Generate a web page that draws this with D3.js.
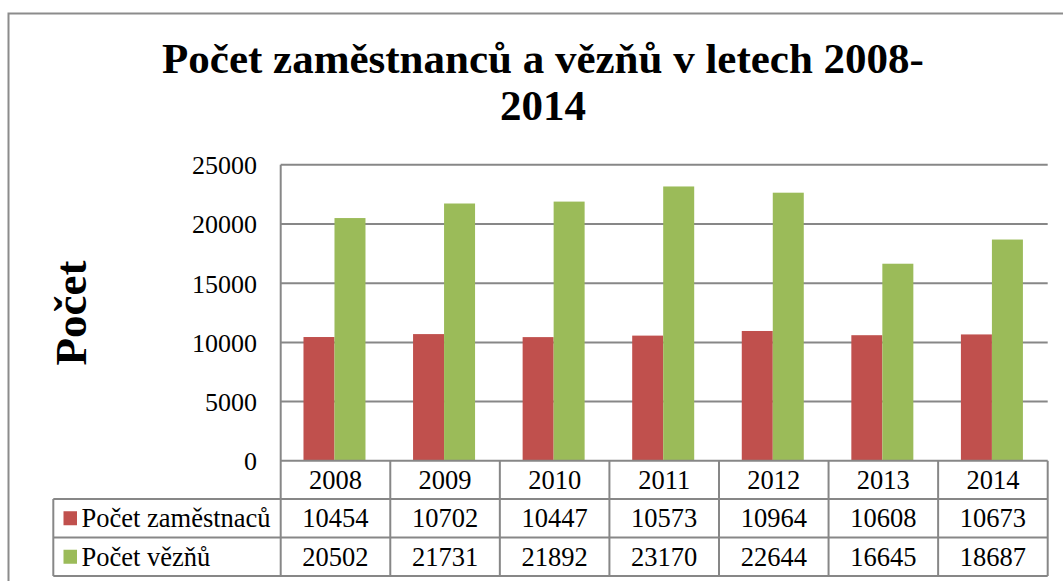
<!DOCTYPE html>
<html>
<head>
<meta charset="utf-8">
<script src="https://cdn.jsdelivr.net/npm/d3@7"></script>
<style>
  html, body { margin: 0; padding: 0; background: #fff; }
  svg { display: block; }
  text { font-family: "Liberation Serif", "Times New Roman", serif; fill: #000; }
</style>
</head>
<body>
<svg id="chart" width="1063" height="581"></svg>
<script>
const years = ["2008", "2009", "2010", "2011", "2012", "2013", "2014"];
const employees = [10454, 10702, 10447, 10573, 10964, 10608, 10673];
const prisoners = [20502, 21731, 21892, 23170, 22644, 16645, 18687];
const seriesNames = ["Počet zaměstnaců", "Počet vězňů"];
const seriesColors = ["#C0504D", "#9BBB59"];
const yTicks = [0, 5000, 10000, 15000, 20000, 25000];
const titleLines = ["Počet zaměstnanců a vězňů v letech 2008-", "2014"];
const yTitle = "Počet";

const series = [employees, prisoners];
const svg = d3.select("#chart");
const gridColor = "#878787";
const serif = '"Liberation Serif", "Times New Roman", serif';

// outer chart border (extends past the window on right / bottom)
svg.append("rect")
  .attr("x", 8.5).attr("y", 13.5).attr("width", 1200).attr("height", 800)
  .attr("fill", "none").attr("stroke", "#8c8c8c").attr("stroke-width", 2);

const plotLeft = 280.7, plotRight = 1047.7, plotTop = 164.8, plotBottom = 460.8;
const x = d3.scaleBand().domain(years).range([plotLeft, plotRight]).padding(0);
const y = d3.scaleLinear().domain([0, 25000]).range([plotBottom, plotTop]);
const groupW = 62;
const x1 = d3.scaleBand().domain(d3.range(series.length))
  .range([(x.bandwidth() - groupW) / 2 - 1, (x.bandwidth() + groupW) / 2 - 1]).padding(0);

// title
svg.append("g").selectAll("text").data(titleLines).join("text")
  .attr("x", 543).attr("y", (d, i) => 73 + i * 47)
  .attr("text-anchor", "middle")
  .style("font-family", serif)
  .style("font-size", "43px").style("font-weight", "bold")
  .text(d => d);

// y axis title
svg.append("text")
  .attr("transform", "translate(86,313) rotate(-90)")
  .attr("text-anchor", "middle")
  .style("font-family", serif)
  .style("font-size", "45px").style("font-weight", "bold")
  .text(yTitle);

// gridlines
svg.append("g").selectAll("line").data(yTicks.filter(t => t > 0)).join("line")
  .attr("x1", plotLeft).attr("x2", plotRight)
  .attr("y1", d => y(d)).attr("y2", d => y(d))
  .attr("stroke", gridColor).attr("stroke-width", 2);

// y axis labels via d3 axis
const yAxis = d3.axisLeft(y).tickValues(yTicks).tickSize(0).tickPadding(0).tickFormat(d3.format("d"));
const ya = svg.append("g").attr("transform", "translate(257,0)").call(yAxis)
  .attr("font-family", null).attr("font-size", null);
ya.select(".domain").remove();
ya.selectAll("text")
  .style("font-family", serif)
  .style("font-size", "26px").attr("fill", "#000").attr("dy", "0.34em");

// bars
series.forEach((vals, si) => {
  svg.append("g").selectAll("rect").data(vals).join("rect")
    .attr("x", (d, i) => x(years[i]) + x1(si))
    .attr("width", x1.bandwidth())
    .attr("y", d => y(d))
    .attr("height", d => y(0) - y(d))
    .attr("fill", seriesColors[si]);
});

// data table
const tableLeft = 53.3;
const rowYs = [460.8, 499, 537.5, 576];
const tbl = svg.append("g").attr("stroke", gridColor).attr("stroke-width", 2);
tbl.append("line").attr("x1", plotLeft).attr("x2", plotRight).attr("y1", rowYs[0]).attr("y2", rowYs[0]);
[1, 2, 3].forEach(r => tbl.append("line").attr("x1", tableLeft).attr("x2", plotRight).attr("y1", rowYs[r]).attr("y2", rowYs[r]));
tbl.append("line").attr("x1", plotLeft).attr("x2", plotLeft).attr("y1", plotTop).attr("y2", rowYs[3]);
tbl.selectAll(".vb").data(years).join("line")
  .attr("x1", d => x(d) + x.bandwidth()).attr("x2", d => x(d) + x.bandwidth())
  .attr("y1", rowYs[0]).attr("y2", rowYs[3]);
tbl.append("line").attr("x1", tableLeft).attr("x2", tableLeft).attr("y1", rowYs[1]).attr("y2", rowYs[3]);

// year labels
svg.append("g").selectAll("text").data(years).join("text")
  .attr("x", d => x(d) + x.bandwidth() / 2)
  .attr("y", (rowYs[0] + rowYs[1]) / 2).attr("dy", "0.34em")
  .attr("text-anchor", "middle")
  .style("font-family", serif).style("font-size", "26.5px")
  .text(d => d);

// value rows
series.forEach((vals, si) => {
  const cy = (rowYs[si + 1] + rowYs[si + 2]) / 2;
  svg.append("g").selectAll("text").data(vals).join("text")
    .attr("x", (d, i) => x(years[i]) + x.bandwidth() / 2)
    .attr("y", cy).attr("dy", "0.34em")
    .attr("text-anchor", "middle")
    .style("font-family", serif).style("font-size", "26.5px")
    .text(d => d);
  svg.append("rect")
    .attr("x", 63.5).attr("y", cy - 7).attr("width", 13.5).attr("height", 14)
    .attr("fill", seriesColors[si]);
  svg.append("text")
    .attr("x", 81.5).attr("y", cy).attr("dy", "0.34em")
    .style("font-family", serif).style("font-size", "26.5px")
    .text(seriesNames[si]);
});
</script>
</body>
</html>
